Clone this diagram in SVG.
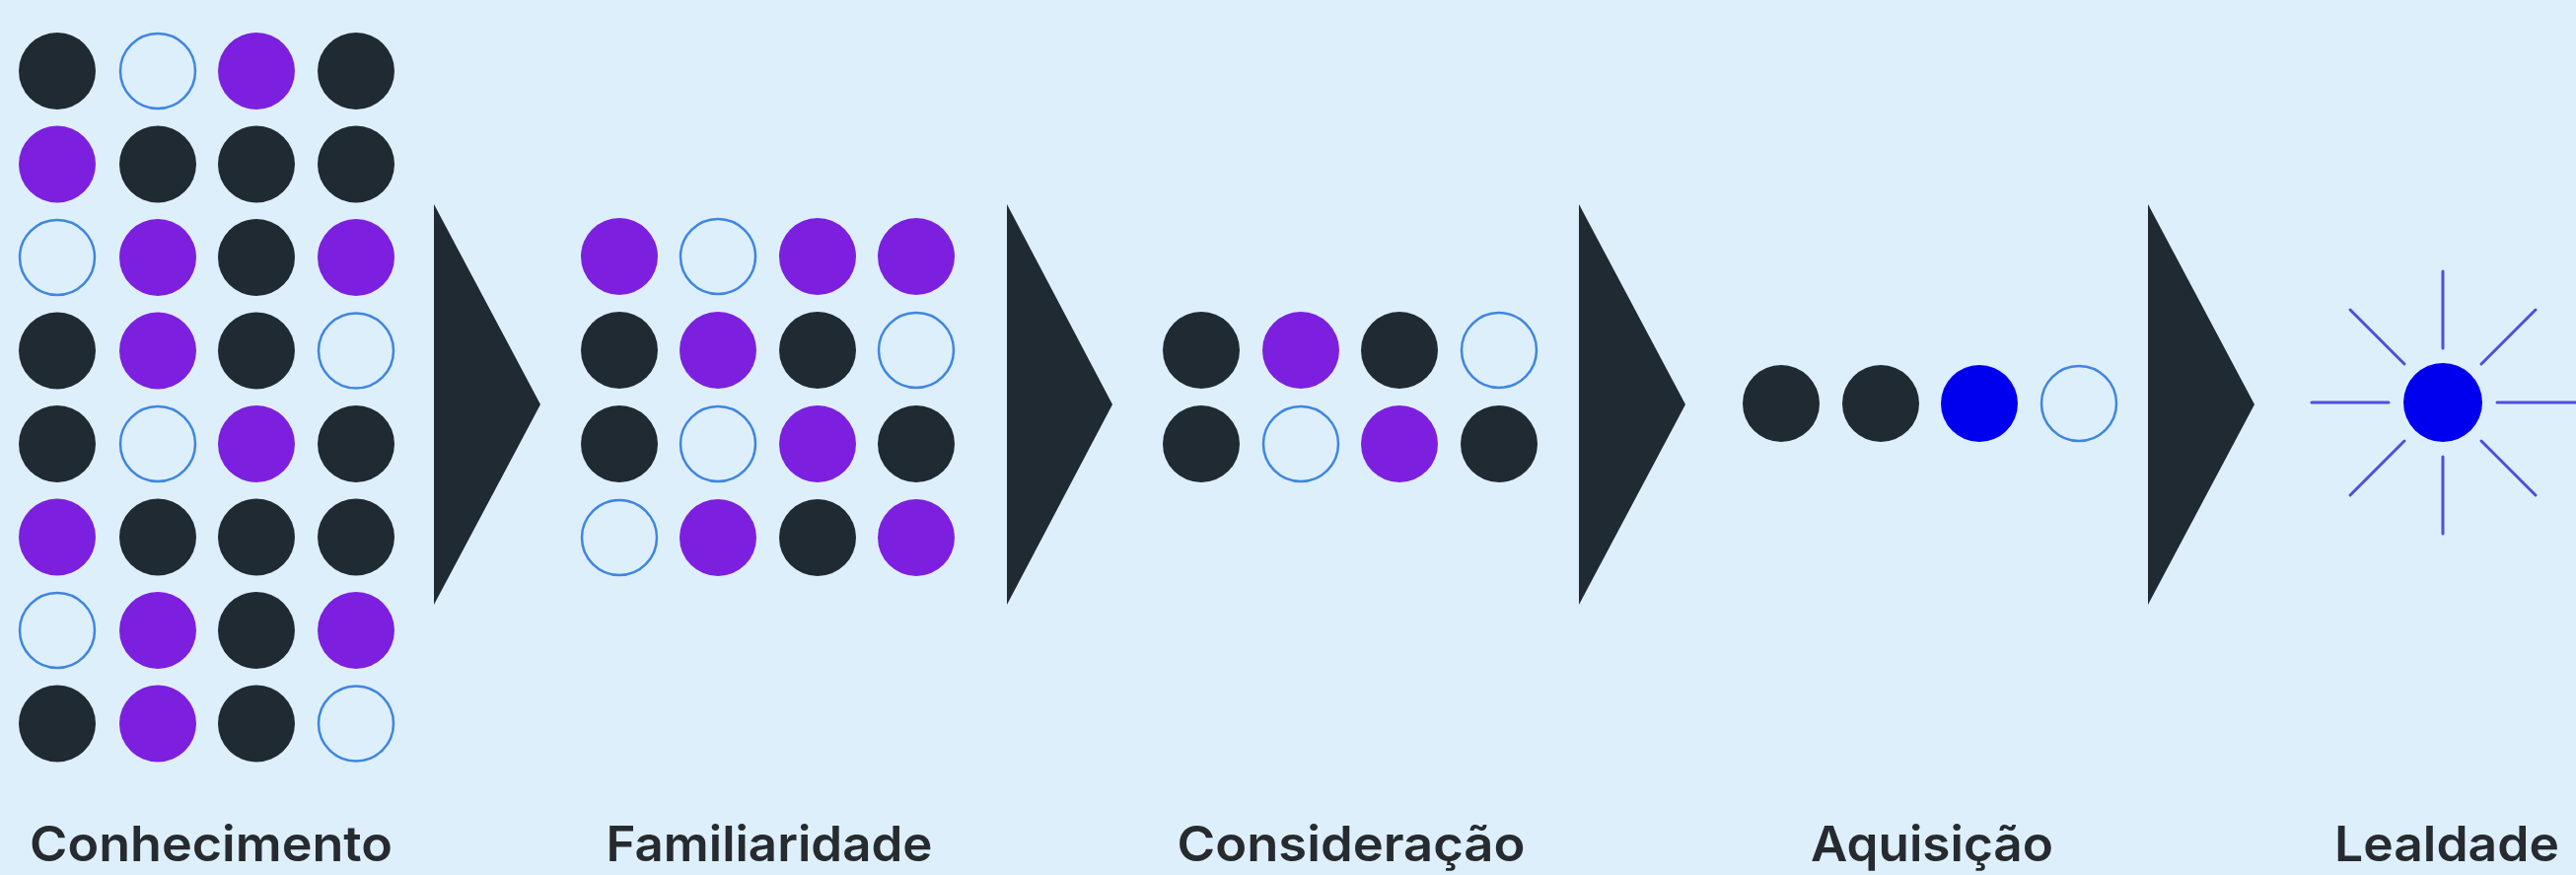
<svg xmlns="http://www.w3.org/2000/svg" width="2612" height="887" viewBox="0 0 2612 887">
<defs>
<style>
.d{fill:#202a33}
.p{fill:#7d1fdf}
.o{fill:none;stroke:#3f86e0;stroke-width:2.5}
.b{fill:#0000ee}
.tri{fill:#202a33}
.ray{stroke:#4f4fd8;stroke-width:3;stroke-linecap:round}
.lbl{font-family:Inter,"Liberation Sans",sans-serif;font-weight:600;font-size:50px;fill:#262b30;text-anchor:middle}
</style>
</defs>
<rect x="0" y="0" width="2612" height="887" fill="#deeffc"/>
<g id="conhecimento">
<circle class="d" cx="58" cy="72" r="39"/><circle class="o" cx="160" cy="72" r="38"/><circle class="p" cx="260" cy="72" r="39"/><circle class="d" cx="361" cy="72" r="39"/>
<circle class="p" cx="58" cy="166.5" r="39"/><circle class="d" cx="160" cy="166.5" r="39"/><circle class="d" cx="260" cy="166.5" r="39"/><circle class="d" cx="361" cy="166.5" r="39"/>
<circle class="o" cx="58" cy="261" r="38"/><circle class="p" cx="160" cy="261" r="39"/><circle class="d" cx="260" cy="261" r="39"/><circle class="p" cx="361" cy="261" r="39"/>
<circle class="d" cx="58" cy="355.5" r="39"/><circle class="p" cx="160" cy="355.5" r="39"/><circle class="d" cx="260" cy="355.5" r="39"/><circle class="o" cx="361" cy="355.5" r="38"/>
<circle class="d" cx="58" cy="450" r="39"/><circle class="o" cx="160" cy="450" r="38"/><circle class="p" cx="260" cy="450" r="39"/><circle class="d" cx="361" cy="450" r="39"/>
<circle class="p" cx="58" cy="544.5" r="39"/><circle class="d" cx="160" cy="544.5" r="39"/><circle class="d" cx="260" cy="544.5" r="39"/><circle class="d" cx="361" cy="544.5" r="39"/>
<circle class="o" cx="58" cy="639" r="38"/><circle class="p" cx="160" cy="639" r="39"/><circle class="d" cx="260" cy="639" r="39"/><circle class="p" cx="361" cy="639" r="39"/>
<circle class="d" cx="58" cy="733.5" r="39"/><circle class="p" cx="160" cy="733.5" r="39"/><circle class="d" cx="260" cy="733.5" r="39"/><circle class="o" cx="361" cy="733.5" r="38"/>
<text class="lbl" x="214" y="873" textLength="368" lengthAdjust="spacingAndGlyphs">Conhecimento</text>
</g>
<g id="familiaridade">
<circle class="p" cx="628" cy="260" r="39"/><circle class="o" cx="728" cy="260" r="38"/><circle class="p" cx="829" cy="260" r="39"/><circle class="p" cx="929" cy="260" r="39"/>
<circle class="d" cx="628" cy="355" r="39"/><circle class="p" cx="728" cy="355" r="39"/><circle class="d" cx="829" cy="355" r="39"/><circle class="o" cx="929" cy="355" r="38"/>
<circle class="d" cx="628" cy="450" r="39"/><circle class="o" cx="728" cy="450" r="38"/><circle class="p" cx="829" cy="450" r="39"/><circle class="d" cx="929" cy="450" r="39"/>
<circle class="o" cx="628" cy="545" r="38"/><circle class="p" cx="728" cy="545" r="39"/><circle class="d" cx="829" cy="545" r="39"/><circle class="p" cx="929" cy="545" r="39"/>
<text class="lbl" x="780" y="873" textLength="331" lengthAdjust="spacingAndGlyphs">Familiaridade</text>
</g>
<g id="consideracao">
<circle class="d" cx="1218" cy="355" r="39"/><circle class="p" cx="1319" cy="355" r="39"/><circle class="d" cx="1419" cy="355" r="39"/><circle class="o" cx="1520" cy="355" r="38"/>
<circle class="d" cx="1218" cy="450" r="39"/><circle class="o" cx="1319" cy="450" r="38"/><circle class="p" cx="1419" cy="450" r="39"/><circle class="d" cx="1520" cy="450" r="39"/>
<text class="lbl" x="1370" y="873" textLength="353" lengthAdjust="spacingAndGlyphs">Consideração</text>
</g>
<g id="aquisicao">
<circle class="d" cx="1806" cy="409" r="39"/><circle class="d" cx="1907" cy="409" r="39"/><circle class="b" cx="2007" cy="409" r="39"/><circle class="o" cx="2108" cy="409" r="38"/>
<text class="lbl" x="1959" y="873" textLength="246" lengthAdjust="spacingAndGlyphs">Aquisição</text>
</g>
<g id="lealdade">
<circle class="b" cx="2477" cy="408" r="40"/>
<g class="ray">
<line x1="2477" y1="353" x2="2477" y2="275"/>
<line x1="2477" y1="463" x2="2477" y2="541"/>
<line x1="2422" y1="408" x2="2344" y2="408"/>
<line x1="2532" y1="408" x2="2612" y2="408"/>
<line x1="2438" y1="369" x2="2383" y2="314"/>
<line x1="2516" y1="369" x2="2571" y2="314"/>
<line x1="2438" y1="447" x2="2383" y2="502"/>
<line x1="2516" y1="447" x2="2571" y2="502"/>
</g>
<text class="lbl" x="2481" y="873" textLength="228" lengthAdjust="spacingAndGlyphs">Lealdade</text>
</g>
<g id="connectors">
<polygon class="tri" points="440,207 548,410 440,613"/>
<polygon class="tri" points="1021,207 1128,410 1021,613"/>
<polygon class="tri" points="1601,207 1709,410 1601,613"/>
<polygon class="tri" points="2178,207 2286,410 2178,613"/>
</g>
</svg>
